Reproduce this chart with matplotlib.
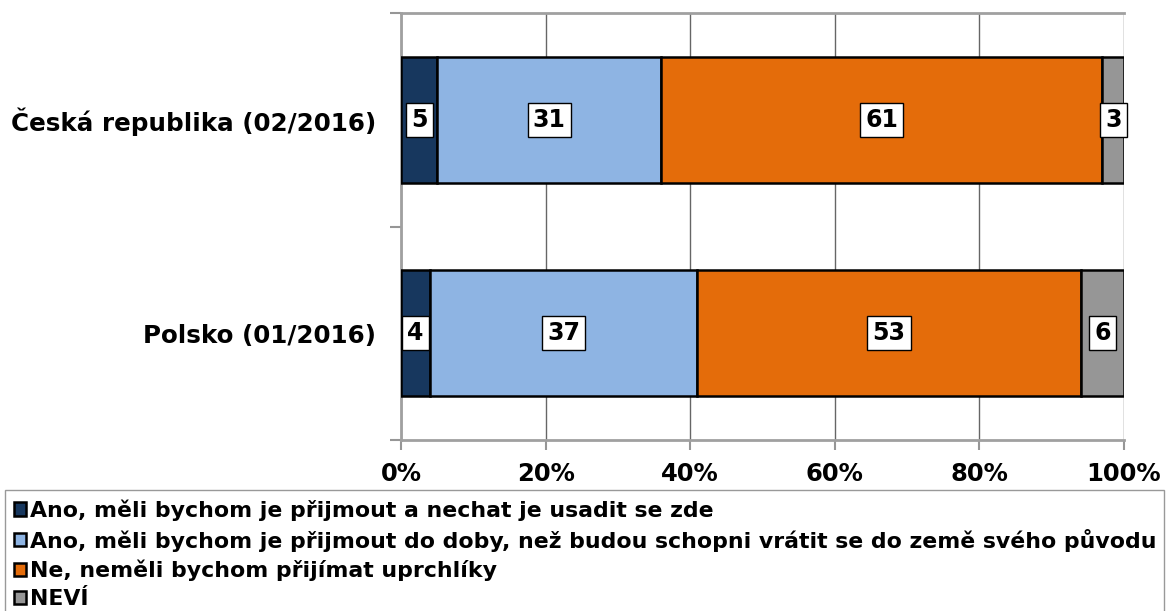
import matplotlib.pyplot as plt
import numpy as np

# Data
categories = ['Česká republika (02/2016)', 'Polsko (01/2016)']
series_names = ['Ano, měli bychom je přijmout a nechat je usadit se zde',
                'Ano, měli bychom je přijmout do doby, než budou schopni vrátit se do země svého původu',
                'Ne, neměli bychom přijímat uprchlíky',
                'NEVÍ']
ano_usadit = [5, 4]
ano_docasne = [31, 37]
ne = [61, 53]
nevi = [3, 6]
colors = ['#17375E', '#8EB4E3', '#E46C0A', '#969696']

plt.rcParams['font.family'] = ['DejaVu Sans']
plt.rcParams['font.weight'] = 'bold'

fig = plt.figure(figsize=(11.66, 6.11), dpi=100)
ax = fig.add_axes([401/1166, 1-440/611, 723/1166, 427/611])

y_pos = np.arange(len(categories))
left = np.zeros(len(categories))
bars = []
for vals, name, col in zip([ano_usadit, ano_docasne, ne, nevi], series_names, colors):
    b = ax.barh(y_pos, vals, left=left, height=0.59, color=col, edgecolor='black',
                linewidth=1.8, label=name, zorder=3)
    for i, v in enumerate(vals):
        ax.text(left[i] + v/2, y_pos[i], str(v), ha='center', va='center',
                fontsize=17, fontweight='bold', zorder=5,
                bbox=dict(boxstyle='square,pad=0.22', fc='white', ec='black', lw=1))
    left += np.array(vals)
    bars.append(b)

ax.set_xlim(0, 100)
ax.set_ylim(1.5, -0.5)
ax.set_xticks(np.arange(0, 101, 20))
ax.set_xticklabels([f'{t}%' for t in range(0, 101, 20)], fontsize=17.5, fontweight='bold')
ax.set_yticks(y_pos)
ax.set_yticklabels(categories, fontsize=17.7, fontweight='bold')
ax.set_yticks([-0.5, 0.5, 1.5], minor=True)
ax.tick_params(axis='y', which='major', length=0, pad=18)
ax.tick_params(axis='y', which='minor', length=8, color='#969696', width=1.5)
ax.tick_params(axis='x', length=7, color='#969696', width=1.5, pad=9)
ax.grid(axis='x', color='#666666', linewidth=1, zorder=0)
for s in ['left', 'bottom', 'top']:
    ax.spines[s].set_color('#a0a0a0')
    ax.spines[s].set_linewidth(2)
ax.spines['right'].set_visible(False)

fig.legend(handles=bars, labels=series_names, loc='upper left',
           bbox_to_anchor=(5/1166, 0, 1159/1166, 1-490/611), mode='expand',
           ncol=1, frameon=True, fancybox=False, edgecolor='#808080',
           prop={'size': 15.8, 'weight': 'bold'}, handlelength=0.55, handleheight=0.55,
           handletextpad=0.15, labelspacing=0.36, borderaxespad=0, borderpad=0.42)

fig.savefig('out.png', dpi=100)
